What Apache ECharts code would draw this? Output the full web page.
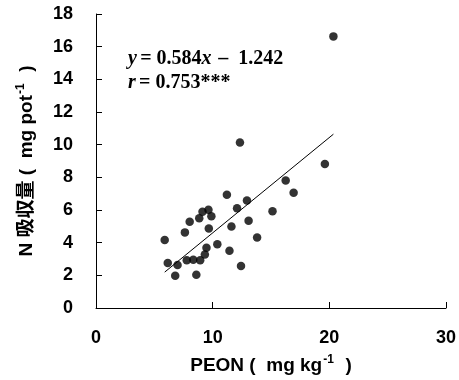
<!DOCTYPE html>
<html>
<head>
<meta charset="utf-8">
<style>html,body{margin:0;padding:0;background:#fff}#c{width:459px;height:380px}</style>
<script src="https://cdn.jsdelivr.net/npm/echarts@6/dist/echarts.min.js"></script>
</head>
<body>
<div id="c"></div>
<script>
const peon = [5.89,6.15,6.79,6.99,7.62,7.78,8.03,8.34,8.6,8.85,8.93,9.13,9.33,9.47,9.64,9.67,9.89,10.4,11.22,11.44,11.61,12.09,12.34,12.43,12.94,13.08,13.81,15.13,16.26,16.94,19.62,20.35];
const nUptake = [4.16,2.75,1.98,2.63,4.63,2.93,5.28,2.95,2.04,5.5,2.92,5.89,3.28,3.69,6.01,4.87,5.62,3.91,6.93,3.5,4.99,6.11,10.13,2.57,6.58,5.34,4.32,5.93,7.8,7.05,8.82,16.63];
const slope = 0.584, intercept = -1.242;
const xTicks = [0,10,20,30];
const yTicks = [0,2,4,6,8,10,12,14,16,18];

const pts = peon.map((x,i)=>[x,nUptake[i]]);
const xmin = Math.min(...peon), xmax = Math.max(...peon);
const fit = [[xmin, slope*xmin+intercept],[xmax, slope*xmax+intercept]];

const chart = echarts.init(document.getElementById('c'));
const SANS = 'Liberation Sans, Arial, sans-serif';
const SERIF = 'Liberation Serif, Times New Roman, serif';
const tickFont = {fontFamily:SANS, fontWeight:'bold', fontSize:18, color:'#000'};
const supStyle = {fontFamily:SANS,fontWeight:'bold',fontSize:12,color:'#000',verticalAlign:'bottom',padding:[0,1,9,1]};
chart.setOption({
  animation:false,
  grid:{left:96,right:8,top:14,bottom:71},
  xAxis:{type:'value',min:0,max:30,interval:10,
    axisLine:{lineStyle:{color:'#000',width:1}},
    axisTick:{inside:true,length:6,lineStyle:{color:'#000'}},
    splitLine:{show:false},
    axisLabel:Object.assign({margin:21},tickFont),
    name:'{a|PEON (  mg kg}{s|-1}{a|  )}',nameLocation:'middle',nameGap:46,
    nameTextStyle:{rich:{a:{fontFamily:SANS,fontWeight:'bold',fontSize:19,color:'#000',verticalAlign:'bottom'},s:supStyle}}
  },
  yAxis:{type:'value',min:0,max:18,interval:2,
    axisLine:{show:true,lineStyle:{color:'#000',width:1}},
    axisTick:{show:true,inside:true,length:6,lineStyle:{color:'#000'}},
    splitLine:{show:false},
    axisLabel:Object.assign({margin:23},tickFont),
    name:'{a|N 吸収量 (  mg pot}{s|-1}{a|  )}',nameLocation:'middle',nameGap:60,
    nameTextStyle:{rich:{a:{fontFamily:'Liberation Sans, Noto Sans CJK JP, sans-serif',fontWeight:'bold',fontSize:19,color:'#000',verticalAlign:'bottom'},s:supStyle}}
  },
  graphic:[
    {type:'text',left:128,top:49,style:{text:'{i|y} {n|= 0.584}{i|x}  {n|–  1.242}',rich:{
      i:{fontFamily:SERIF,fontStyle:'italic',fontWeight:'bold',fontSize:20,fill:'#000'},
      n:{fontFamily:SERIF,fontWeight:'bold',fontSize:20,fill:'#000'}}}},
    {type:'text',left:128,top:73,style:{text:'{i|r} {n|= 0.753***}',rich:{
      i:{fontFamily:SERIF,fontStyle:'italic',fontWeight:'bold',fontSize:20,fill:'#000'},
      n:{fontFamily:SERIF,fontWeight:'bold',fontSize:20,fill:'#000'}}}}
  ],
  series:[
    {type:'line',data:fit,symbol:'none',lineStyle:{color:'#000',width:1},z:1},
    {type:'scatter',data:pts,symbol:'circle',symbolSize:8.5,itemStyle:{color:'#000'},z:2}
  ]
});
</script>
</body>
</html>
